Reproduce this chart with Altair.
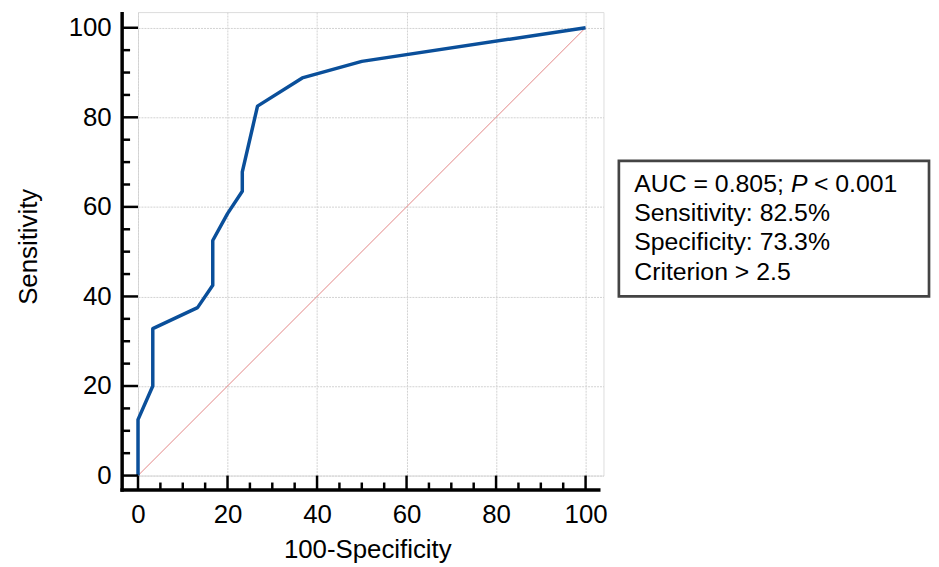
import altair as alt
import pandas as pd

# ---- data ----
fpr = [0, 0, 3.3, 3.3, 13.3, 16.7, 16.7, 20.0, 23.3, 23.3, 26.7, 36.7, 50.0, 100]
tpr = [0, 12.5, 20.0, 32.8, 37.5, 42.5, 52.5, 58.5, 63.5, 67.8, 82.5, 88.8, 92.5, 100]
diag_x = [0, 100]
diag_y = [0, 100]
major_ticks = [0, 20, 40, 60, 80, 100]
minor_ticks = [5, 10, 15, 25, 30, 35, 45, 50, 55, 65, 70, 75, 85, 90, 95]
x_title = "100-Specificity"
y_title = "Sensitivity"
auc_parts = ["AUC = 0.805;", "P", "< 0.001"]
legend_lines = ["Sensitivity: 82.5%", "Specificity: 73.3%", "Criterion > 2.5"]

# ---- layout ----
W, H = 469, 467
FONT = "Liberation Sans"
xs = alt.Scale(domain=[0, 104], nice=False, zero=False)
ys = alt.Scale(domain=[0, 103.5], nice=False, zero=False)

grid_kw = dict(grid=True, gridColor="#d2d2d2", gridWidth=1, gridDash=[2, 1],
               domain=False, ticks=False, tickSize=0, labelFlush=False,
               labelOverlap=False, labelFont=FONT, labelFontSize=26,
               labelColor="black", titleFont=FONT, titleFontSize=26,
               titleFontWeight="normal", titleColor="black")

axis_x = alt.Axis(values=major_ticks, labelPadding=26, title=x_title,
                  titleX=231, titleY=83, titleAlign="center",
                  titleBaseline="alphabetic", **grid_kw)
axis_y = alt.Axis(values=major_ticks, labelPadding=27, title=y_title,
                  titleX=-102, titleY=236, titleAngle=270, titleAlign="center",
                  titleBaseline="alphabetic", **grid_kw)

curve_df = pd.DataFrame({"x": fpr, "y": tpr, "i": list(range(len(fpr)))})
diag_df = pd.DataFrame({"x": diag_x, "y": diag_y})
major_df = pd.DataFrame({"v": major_ticks})
minor_df = pd.DataFrame({"v": minor_ticks})
one = pd.DataFrame({"a": [0]})

diag = alt.Chart(diag_df).mark_line(color="#e38585", strokeWidth=1).encode(
    x=alt.X("x:Q", scale=xs, axis=axis_x),
    y=alt.Y("y:Q", scale=ys, axis=axis_y),
)

curve = alt.Chart(curve_df).mark_line(color="#0a4f9a", strokeWidth=3.5,
                                      strokeJoin="round").encode(
    x=alt.X("x:Q", scale=xs, axis=axis_x),
    y=alt.Y("y:Q", scale=ys, axis=axis_y),
    order=alt.Order("i:Q"),
)

AX_X = -16       # y-axis line position (px from plot left)
AX_Y = H + 14.5  # x-axis line position

yline = alt.Chart(one).mark_rule(color="black", strokeWidth=3.5).encode(
    x=alt.value(AX_X), y=alt.value(0), y2=alt.value(AX_Y + 1.75))
xline = alt.Chart(one).mark_rule(color="black", strokeWidth=3.5).encode(
    x=alt.value(AX_X - 1.75), x2=alt.value(466), y=alt.value(AX_Y))

xt_major = alt.Chart(major_df).mark_rule(color="black", strokeWidth=2.5).encode(
    x=alt.X("v:Q", scale=xs, axis=axis_x), y=alt.value(H), y2=alt.value(AX_Y))
xt_minor = alt.Chart(minor_df).mark_rule(color="black", strokeWidth=2.5).encode(
    x=alt.X("v:Q", scale=xs, axis=axis_x), y=alt.value(H + 7), y2=alt.value(AX_Y))
yt_major = alt.Chart(major_df).mark_rule(color="black", strokeWidth=2.5).encode(
    y=alt.Y("v:Q", scale=ys, axis=axis_y), x=alt.value(AX_X), x2=alt.value(0))
yt_minor = alt.Chart(minor_df).mark_rule(color="black", strokeWidth=2.5).encode(
    y=alt.Y("v:Q", scale=ys, axis=axis_y), x=alt.value(AX_X), x2=alt.value(-8))

box = alt.Chart(one).mark_rect(fill="white", stroke="#444444", strokeWidth=2.7).encode(
    x=alt.value(484.5), x2=alt.value(797), y=alt.value(150), y2=alt.value(286.5))

TS = 25
text_layers = []
part_x = [500, 658, 681]
for part, px in zip(auc_parts, part_x):
    text_layers.append(
        alt.Chart(one).mark_text(
            text=part, font=FONT, fontSize=TS, color="black", align="left",
            baseline="alphabetic", fontStyle="italic" if part == "P" else "normal",
        ).encode(x=alt.value(px), y=alt.value(181))
    )
for line, py in zip(legend_lines, [210.5, 240, 269.5]):
    text_layers.append(
        alt.Chart(one).mark_text(
            text=line, font=FONT, fontSize=TS, color="black", align="left",
            baseline="alphabetic",
        ).encode(x=alt.value(500), y=alt.value(py))
    )

chart = alt.layer(
    diag, curve, yline, xline, xt_major, xt_minor, yt_major, yt_minor, box, *text_layers
).properties(
    width=W, height=H,
    autosize=alt.AutoSizeParams(type="none"),
    padding={"left": 131, "top": 2, "right": 330, "bottom": 90},
).configure_view(strokeWidth=0).configure(font=FONT, background="white")

chart.save("out.html", embed_options={"renderer": "svg", "actions": False})
